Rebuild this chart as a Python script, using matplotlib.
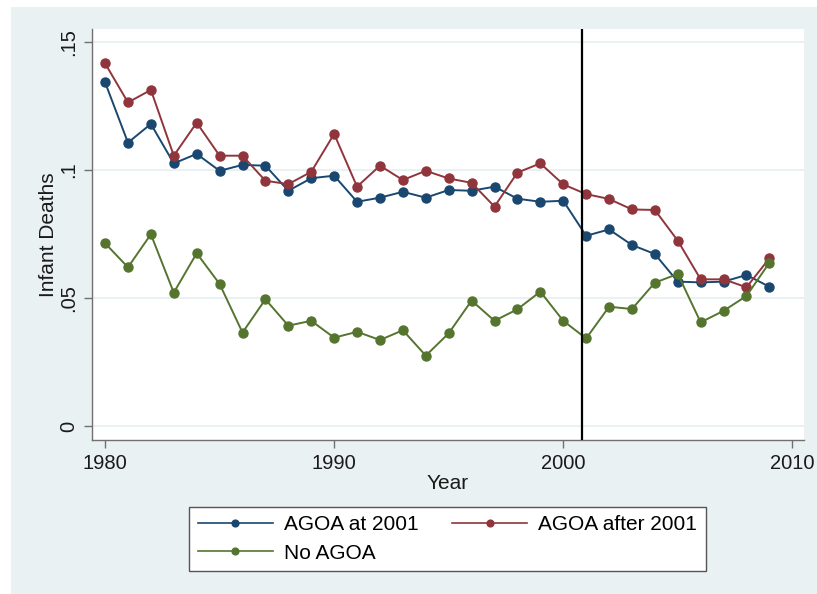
import matplotlib
matplotlib.use("Agg")
import matplotlib.pyplot as plt
from matplotlib.patches import Rectangle

plt.rcParams['font.family'] = ['Liberation Sans', 'DejaVu Sans']

years = list(range(1980, 2010))

agoa_2001 = [0.1343, 0.1107, 0.1180, 0.1026, 0.1063, 0.0997, 0.1020, 0.1017,
             0.0919, 0.0968, 0.0978, 0.0876, 0.0892, 0.0915, 0.0892, 0.0922,
             0.0919, 0.0935, 0.0888, 0.0876, 0.0880, 0.0743, 0.0768, 0.0707,
             0.0672, 0.0564, 0.0561, 0.0564, 0.0590, 0.0544]

agoa_after = [0.1417, 0.1264, 0.1313, 0.1056, 0.1185, 0.1056, 0.1056, 0.0958,
              0.0945, 0.0993, 0.1141, 0.0935, 0.1017, 0.0961, 0.0997, 0.0967,
              0.0950, 0.0857, 0.0990, 0.1026, 0.0944, 0.0906, 0.0887, 0.0846,
              0.0844, 0.0724, 0.0573, 0.0573, 0.0542, 0.0655]

no_agoa = [0.0714, 0.0620, 0.0749, 0.0521, 0.0675, 0.0555, 0.0365, 0.0495,
           0.0392, 0.0411, 0.0345, 0.0368, 0.0336, 0.0374, 0.0275, 0.0362,
           0.0490, 0.0411, 0.0456, 0.0525, 0.0411, 0.0342, 0.0466, 0.0457,
           0.0560, 0.0594, 0.0405, 0.0450, 0.0508, 0.0638]

series_labels = ["AGOA at 2001", "AGOA after 2001", "No AGOA"]
x_ticks = [1980, 1990, 2000, 2010]
y_ticks = [0, 0.05, 0.1, 0.15]
y_ticklabels = ["0", ".05", ".1", ".15"]
treatment_year = 2000.8

navy = "#1a476f"
maroon = "#90353b"
green = "#55752f"
region_bg = "#eaf1f3"

fig = plt.figure(figsize=(8.17, 5.94), dpi=100)
fig.patch.set_facecolor("white")
# graph region background, kept behind the axes
bg = Rectangle((11 / 817, 0), 1 - 11 / 817, 1 - 7 / 594,
               transform=fig.transFigure, facecolor=region_bg,
               edgecolor="none", zorder=-10)
fig.patches.append(bg)

ax = fig.add_axes([92 / 817, 1 - 440 / 594, (804 - 92) / 817, (440 - 29) / 594])
ax.set_zorder(1)
ax.set_facecolor("white")

for yv in y_ticks:
    ax.axhline(yv, color=region_bg, lw=1.5, zorder=1)

style = dict(lw=1.4, marker="o", markersize=6.5)
h1, = ax.plot(years, agoa_2001, color=navy, label=series_labels[0], zorder=3, **style)
h2, = ax.plot(years, agoa_after, color=maroon, label=series_labels[1], zorder=3, **style)
h3, = ax.plot(years, no_agoa, color=green, label=series_labels[2], zorder=3, **style)

ax.axvline(treatment_year, color="black", lw=1.6, zorder=4)

ax.set_xlim(1979.43, 2010.51)
ax.set_ylim(-0.00547, 0.1551)

ax.set_xticks(x_ticks)
ax.set_yticks(y_ticks)
ax.set_yticklabels(y_ticklabels, rotation=90, va="center")

for side in ["top", "right"]:
    ax.spines[side].set_visible(False)
for side in ["left", "bottom"]:
    ax.spines[side].set_color("#707070")
    ax.spines[side].set_linewidth(1.0)

ax.tick_params(axis="both", direction="out", length=6, width=1.0,
               color="#707070", labelsize=14.5, labelcolor="#1a1a1a")
ax.tick_params(axis="x", pad=4)
ax.tick_params(axis="y", pad=4)

ax.set_xlabel("Year", fontsize=15, color="#1a1a1a", labelpad=1)
ax.set_ylabel("Infant Deaths", fontsize=15, color="#1a1a1a", labelpad=1)

leg = fig.legend([h1, h3, h2], [series_labels[0], series_labels[2], series_labels[1]],
                 ncol=2, loc="center", bbox_to_anchor=(447.5 / 817, 1 - 539 / 594),
                 fontsize=15, frameon=True, fancybox=False, handlelength=3.6,
                 handletextpad=0.55, columnspacing=1.6, labelspacing=0.45,
                 borderpad=0.4, markerscale=0.75, framealpha=1.0,
                 facecolor="white")
leg.get_frame().set_edgecolor("#555555")
leg.get_frame().set_linewidth(1.0)
for line in leg.get_lines():
    line.set_linewidth(1.2)

fig.savefig("out.png", dpi=100, facecolor=fig.get_facecolor())
